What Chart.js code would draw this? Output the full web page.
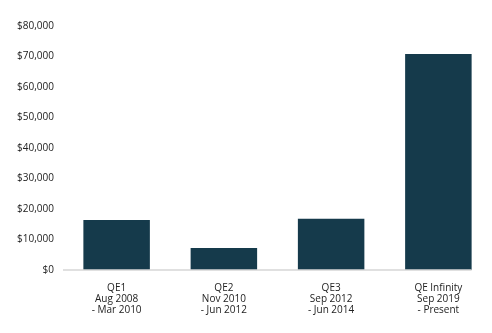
<!DOCTYPE html>
<html>
<head>
<meta charset="utf-8">
<script src="https://cdn.jsdelivr.net/npm/chart.js@4"></script>
<style>
  html, body { margin: 0; padding: 0; background: #ffffff; }
  #wrap { width: 492px; height: 333px; position: relative; }
</style>
</head>
<body>
<div id="wrap"><canvas id="qeChart"></canvas></div>
<script>
  // Programme labels, one array entry per line of the axis label
  const programmes = [
    ["QE1", "Aug 2008", "- Mar 2010"],
    ["QE2", "Nov 2010", "- Jun 2012"],
    ["QE3", "Sep 2012", "- Jun 2014"],
    ["QE Infinity", "Sep 2019", "- Present"],
  ];
  // Amounts per programme
  const amounts = [16400, 7250, 16800, 70800];
  const yMax = 80000;
  const yStep = 10000;

  const barColor = "#153a4b";
  const textColor = "#222222";
  const baselineColor = "#d6d6d6";

  // Baseline runs from the left edge of the plot to the right edge of the last bar
  const baselinePlugin = {
    id: "baseline",
    afterDatasetsDraw(chart) {
      const { ctx, chartArea } = chart;
      const meta = chart.getDatasetMeta(0);
      const last = meta.data[meta.data.length - 1];
      if (!last) return;
      const props = last.getProps(["x", "width"], true);
      const y = chart.scales.y.getPixelForValue(0);
      ctx.save();
      ctx.strokeStyle = baselineColor;
      ctx.lineWidth = 1.5;
      ctx.beginPath();
      ctx.moveTo(chartArea.left, y);
      ctx.lineTo(props.x + props.width / 2, y);
      ctx.stroke();
      ctx.restore();
    },
  };

  new Chart(document.getElementById("qeChart"), {
    type: "bar",
    data: {
      labels: programmes,
      datasets: [
        {
          data: amounts,
          backgroundColor: barColor,
          borderWidth: 0,
          barPercentage: 0.62,
          categoryPercentage: 1,
        },
      ],
    },
    plugins: [baselinePlugin],
    options: {
      responsive: true,
      maintainAspectRatio: false,
      animation: false,
      layout: { padding: { top: 26, right: 0, bottom: 4, left: 0 } },
      scales: {
        x: {
          grid: { display: false, drawTicks: false },
          border: { display: false },
          ticks: {
            color: textColor,
            padding: 13,
            maxRotation: 0,
            autoSkip: false,
            font: { family: "'Open Sans', sans-serif", size: 10, lineHeight: 1.1 },
          },
        },
        y: {
          min: 0,
          max: yMax,
          afterFit(scale) {
            scale.width = 63;
          },
          grid: { display: false, drawTicks: false },
          border: { display: false },
          ticks: {
            stepSize: yStep,
            color: textColor,
            padding: 9,
            font: { family: "'Open Sans', sans-serif", size: 10 },
            callback: (value) => "$" + value.toLocaleString("en-US"),
          },
        },
      },
      plugins: {
        legend: { display: false },
        tooltip: { enabled: false },
      },
    },
  });
</script>
</body>
</html>
